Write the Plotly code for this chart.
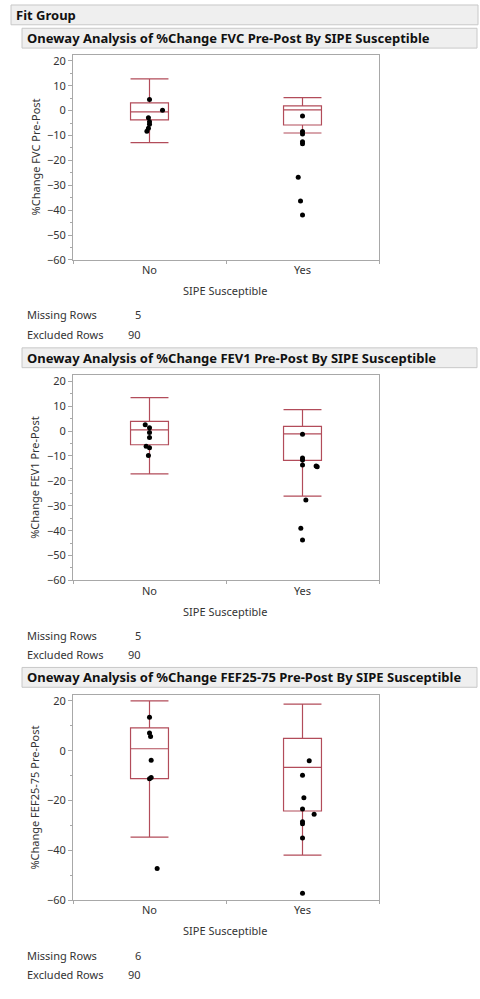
import plotly.graph_objects as go

groups = ["No", "Yes"]
group_pos = [0, 1]

# box summaries (No, Yes) read off the JMP output
fvc_lower = [-12.9, -9.0]
fvc_q1 = [-3.7, -5.8]
fvc_median = [-0.5, 0.3]
fvc_q3 = [3.1, 1.9]
fvc_upper = [12.7, 5.2]
fvc_no = [4.5, 0.1, -2.9, -4.5, -5.5, -7.1, -8.3]
fvc_no_jit = [0.0, 0.085, -0.007, 0.0, 0.0, -0.007, -0.017]
fvc_yes = [-2.2, -8.4, -9.4, -12.5, -13.3, -26.8, -36.3, -41.9]
fvc_yes_jit = [0.0, 0.0, 0.0, 0.0, 0.0, -0.028, -0.013, 0.0]

fev1_lower = [-17.2, -26.1]
fev1_q1 = [-5.5, -11.8]
fev1_median = [0.45, -1.1]
fev1_q3 = [3.9, 1.9]
fev1_upper = [13.4, 8.6]
fev1_no = [2.5, 1.3, -0.6, -2.6, -6.1, -6.7, -9.8]
fev1_no_jit = [-0.028, 0.0, 0.0, 0.0, -0.022, 0.0, -0.007]
fev1_yes = [-1.3, -10.8, -11.6, -13.6, -14.0, -14.3, -27.7, -39.0, -43.8]
fev1_yes_jit = [0.0, 0.0, 0.0, 0.0, 0.089, 0.096, 0.022, -0.011, 0.0]

fef_lower = [-34.7, -41.9]
fef_q1 = [-11.2, -24.2]
fef_median = [0.8, -6.7]
fef_q3 = [9.2, 5.0]
fef_upper = [20.0, 18.7]
fef_no = [13.5, 7.1, 5.7, -3.8, -10.7, -11.2, -47.3]
fef_no_jit = [0.0, 0.0, 0.007, 0.011, 0.011, 0.0, 0.05]
fef_yes = [-4.0, -9.8, -18.9, -23.4, -25.5, -28.5, -29.3, -35.0, -57.2]
fef_yes_jit = [0.044, 0.0, 0.009, 0.0, 0.076, 0.0, 0.0, 0.0, 0.0]

titles = ["Oneway Analysis of %Change FVC Pre-Post By SIPE Susceptible",
          "Oneway Analysis of %Change FEV1 Pre-Post By SIPE Susceptible",
          "Oneway Analysis of %Change FEF25-75 Pre-Post By SIPE Susceptible"]
ylabels = ["%Change FVC Pre-Post", "%Change FEV1 Pre-Post", "%Change FEF25-75 Pre-Post"]
missing_rows = [5, 5, 6]
excluded_rows = [90, 90, 90]

panels = [
    (fvc_lower, fvc_q1, fvc_median, fvc_q3, fvc_upper, fvc_no, fvc_no_jit, fvc_yes, fvc_yes_jit),
    (fev1_lower, fev1_q1, fev1_median, fev1_q3, fev1_upper, fev1_no, fev1_no_jit, fev1_yes, fev1_yes_jit),
    (fef_lower, fef_q1, fef_median, fef_q3, fef_upper, fef_no, fef_no_jit, fef_yes, fef_yes_jit),
]

W, H = 480, 999
FONT = "Noto Sans"
BOXCOL = "#B24C5A"
TXT = "#333333"

def px(x):
    return x / W

def py(y):
    return 1 - y / H

# pixel tops of each panel's frame and title bar
frame_top = [53.3, 376.7, 699.3]
frame_h = 207.0
bar_top = [26.5, 349.0, 671.5]

fig = go.Figure()
shapes = []
annotations = []

def note(text, x, y, size=11, xanchor="center", angle=0, color=TXT):
    annotations.append(dict(text=text, x=px(x), y=py(y), xref="paper", yref="paper",
                            xanchor=xanchor, yanchor="middle", textangle=angle,
                            showarrow=False, font=dict(family=FONT, size=size, color=color)))

# Fit Group header
shapes.append(dict(type="rect", xref="paper", yref="paper", x0=px(11), x1=px(478),
                   y0=py(23), y1=py(3), fillcolor="#EFEFEF", line=dict(color="#C8C8C8", width=1),
                   layer="below"))
note("<b>Fit Group</b>", 14, 13, size=13, xanchor="left", color="#111")

for i, (lo, q1, med, q3, up, no, no_j, yes, yes_j) in enumerate(panels):
    n = "" if i == 0 else str(i + 1)
    top = frame_top[i]
    bot = top + frame_h
    fig.add_trace(go.Box(x=group_pos, q1=q1, median=med, q3=q3, lowerfence=lo, upperfence=up,
                         width=0.248, whiskerwidth=1, fillcolor="rgba(0,0,0,0)",
                         line=dict(color=BOXCOL, width=1.2), boxpoints=False,
                         hoverinfo="skip", xaxis="x" + n, yaxis="y" + n))
    xs = [group_pos[0] + j for j in no_j] + [group_pos[1] + j for j in yes_j]
    fig.add_trace(go.Scatter(x=xs, y=no + yes, mode="markers",
                             marker=dict(color="black", size=5),
                             xaxis="x" + n, yaxis="y" + n))

    major = 10 if i < 2 else 20
    fig.layout["xaxis" + n] = dict(domain=[px(73), px(379)], anchor="y" + n, range=[-0.5, 1.5],
                                   tickvals=group_pos, ticktext=groups, ticks="", showgrid=False,
                                   zeroline=False, showline=True, mirror=True, linecolor="#A8A8A8",
                                   tickfont=dict(family=FONT, size=11, color=TXT),
                                   minor=dict(tick0=0.5, dtick=1, ticks="outside", ticklen=3,
                                              tickcolor="#A8A8A8"))
    fig.layout["yaxis" + n] = dict(domain=[py(bot), py(top)], anchor="x" + n, range=[-60, 22.4],
                                   dtick=major, tick0=0, ticks="outside", ticklen=4, tickcolor="#A8A8A8",
                                   showgrid=False, zeroline=False, showline=True, mirror=True,
                                   linecolor="#A8A8A8",
                                   tickfont=dict(family=FONT, size=11, color=TXT),
                                   minor=dict(dtick=major / 2, ticks="outside", ticklen=2,
                                              tickcolor="#A8A8A8"))

    # title bar
    bt = bar_top[i]
    shapes.append(dict(type="rect", xref="paper", yref="paper", x0=px(22), x1=px(477),
                       y0=py(bt + 20), y1=py(bt), fillcolor="#EFEFEF",
                       line=dict(color="#C8C8C8", width=1), layer="below"))
    note("<b>" + titles[i] + "</b>", 25, bt + 10, size=13, xanchor="left", color="#111")
    # axis labels
    note(ylabels[i], 35, (top + bot) / 2, angle=-90)
    note("SIPE Susceptible", 225, bot + 31)
    # row counts
    for k, (lab, val) in enumerate([("Missing Rows", missing_rows[i]),
                                    ("Excluded Rows", excluded_rows[i])]):
        note(lab, 25, bot + 55.5 + 19.5 * k, xanchor="left")
        note(str(val), 143, bot + 55.5 + 19.5 * k, xanchor="right")

fig.update_layout(width=W, height=H, margin=dict(l=0, r=0, t=0, b=0), showlegend=False,
                  plot_bgcolor="white", paper_bgcolor="white", shapes=shapes,
                  annotations=annotations)

# drop the browser's default body margin so the figure sits at the page corner
page_fix = ("document.documentElement.style.margin='0';document.body.style.margin='0';"
            "document.documentElement.style.overflow='hidden';document.body.style.overflow='hidden';")

fig.write_html("out.html", post_script=page_fix, config={"displayModeBar": False})
